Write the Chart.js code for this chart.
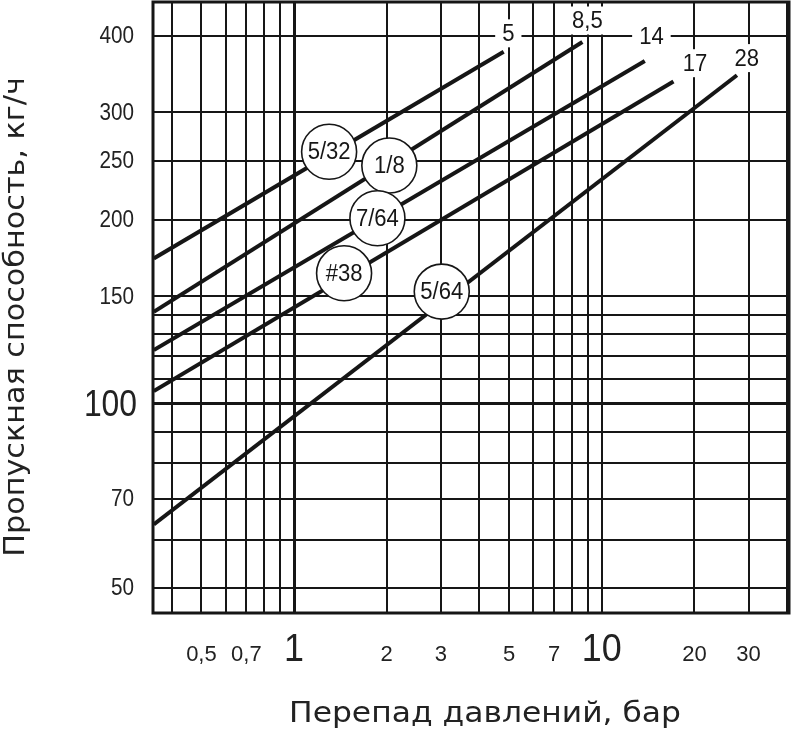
<!DOCTYPE html>
<html>
<head>
<meta charset="utf-8">
<script src="https://cdn.jsdelivr.net/npm/chart.js@4.4.0/dist/chart.umd.min.js"></script>
<style>
  html, body { margin: 0; padding: 0; background: #fff; }
  canvas { display: block; }
</style>
</head>
<body>
<canvas id="chart" width="791" height="730"></canvas>
<script>
// orifice curves: name, pressure tag at the end, and the two end points (bar, kg/h)
const orifices = ['5/32', '1/8', '7/64', '#38', '5/64'];
const maxPressure = ['5', '8,5', '14', '17', '28'];
const startBar = [0.35, 0.35, 0.35, 0.35, 0.35];
const startFlow = [173, 141.5, 122.5, 105, 63.5];
const endBar = [4.8, 8.65, 13.8, 17.1, 27.5];
const endFlow = [377, 391, 364, 337, 345];

// where the round tags and the pressure tags sit (bar, kg/h)
const circleBar = [1.30, 2.04, 1.866, 1.454, 3.02];
const circleFlow = [258.6, 245.5, 201.3, 163.6, 152.7];
const tagBar = [4.97, 8.98, 14.5, 20.1, 29.6];
const tagFlow = [404, 424, 399, 361, 368];

// grid and tick labels
const xGrid = [0.4, 0.5, 0.6, 0.7, 0.8, 0.9, 1, 2, 3, 4, 5, 6, 7, 8, 9, 10, 20, 30, 40];
const xTickValues = [0.5, 0.7, 1, 2, 3, 5, 7, 10, 20, 30];
const xTickText = ['0,5', '0,7', '1', '2', '3', '5', '7', '10', '20', '30'];
const yGrid = [50, 60, 70, 80, 90, 100, 110, 120, 130, 140, 150, 200, 250, 300, 400];
const yTickValues = [50, 70, 100, 150, 200, 250, 300, 400];
const yTickText = ['50', '70', '100', '150', '200', '250', '300', '400'];

const xTitle = 'Перепад давлений, бар';
const yTitle = 'Пропускная способность, кг/ч';

const SANS = "'Liberation Sans', Arial, sans-serif";
const TITLE_FONT = "'DejaVu Sans', sans-serif";
const INK = '#161616';

// draw text squeezed/stretched horizontally around its anchor
function drawText(ctx, text, x, y, sx, rot) {
  ctx.save();
  ctx.translate(x, y);
  if (rot) ctx.rotate(rot);
  ctx.scale(sx, 1);
  ctx.fillText(text, 0, 0);
  ctx.restore();
}

const decorations = {
  id: 'decorations',
  afterDatasetsDraw(chart) {
    const { ctx, chartArea: a, scales: { x, y } } = chart;
    ctx.save();
    // frame
    ctx.strokeStyle = INK;
    ctx.lineWidth = 3;
    ctx.strokeRect(a.left, a.top, a.right - a.left, a.bottom - a.top);

    ctx.textAlign = 'center';
    ctx.textBaseline = 'middle';
    ctx.font = '23px ' + SANS;

    // round tags on the curves
    orifices.forEach((name, i) => {
      const cx = x.getPixelForValue(circleBar[i]);
      const cy = y.getPixelForValue(circleFlow[i]);
      ctx.beginPath();
      ctx.arc(cx, cy, 27.5, 0, Math.PI * 2);
      ctx.fillStyle = '#fff';
      ctx.fill();
      ctx.lineWidth = 1.6;
      ctx.strokeStyle = INK;
      ctx.stroke();
      ctx.fillStyle = INK;
      drawText(ctx, name, cx, cy + 1, 0.96);
    });

    // pressure tags at the end of each curve
    ctx.font = '24px ' + SANS;
    maxPressure.forEach((t, i) => {
      const tx = x.getPixelForValue(tagBar[i]);
      const ty = y.getPixelForValue(tagFlow[i]);
      const w = ctx.measureText(t).width * 0.92 + 14;
      ctx.fillStyle = '#fff';
      ctx.fillRect(tx - w / 2, ty - 14, w, 28);
      ctx.fillStyle = INK;
      drawText(ctx, t, tx, ty + 1, 0.92);
    });

    // x tick labels, baseline aligned
    ctx.fillStyle = '#222';
    ctx.textBaseline = 'alphabetic';
    xTickValues.forEach((v, i) => {
      const big = v === 1 || v === 10;
      ctx.font = (big ? '39px ' : '22px ') + SANS;
      drawText(ctx, xTickText[i], x.getPixelForValue(v), 661, big ? 0.92 : 1);
    });

    // y tick labels, right aligned
    ctx.textAlign = 'right';
    ctx.textBaseline = 'middle';
    yTickValues.forEach((v, i) => {
      const big = v === 100;
      ctx.font = (big ? '37px ' : '23px ') + SANS;
      drawText(ctx, yTickText[i], big ? 137 : 134, y.getPixelForValue(v) + (big ? 2 : 1), big ? 0.86 : 0.9);
    });

    // axis titles
    ctx.textAlign = 'center';
    ctx.textBaseline = 'alphabetic';
    ctx.font = '28px ' + TITLE_FONT;
    drawText(ctx, xTitle, 485, 722, 1.12);
    drawText(ctx, yTitle, 24, 317, 1.08, -Math.PI / 2);
    ctx.restore();
  }
};

new Chart(document.getElementById('chart'), {
  type: 'scatter',
  data: {
    datasets: orifices.map((name, i) => ({
      label: name,
      data: [{ x: startBar[i], y: startFlow[i] }, { x: endBar[i], y: endFlow[i] }],
      showLine: true,
      borderColor: INK,
      borderWidth: 4,
      pointRadius: 0
    }))
  },
  options: {
    responsive: false,
    animation: false,
    layout: { padding: { top: 2, right: 2, left: 0, bottom: 0 } },
    plugins: { legend: { display: false }, tooltip: { enabled: false } },
    scales: {
      x: {
        type: 'logarithmic',
        min: 0.348,
        max: 40.6,
        bounds: 'data',
        afterBuildTicks: s => { s.ticks = xGrid.map(v => ({ value: v })); },
        afterFit: s => { s.height = 117; s.paddingLeft = 0; s.paddingRight = 0; },
        grid: { color: INK, lineWidth: c => (c.tick && c.tick.value === 1) ? 3 : 2, drawTicks: false },
        border: { display: false },
        ticks: { display: false }
      },
      y: {
        type: 'logarithmic',
        min: 45.5,
        max: 454.6,
        bounds: 'data',
        afterBuildTicks: s => { s.ticks = yGrid.map(v => ({ value: v })); },
        afterFit: s => { s.width = 153; s.paddingTop = 0; s.paddingBottom = 0; },
        grid: { color: INK, lineWidth: c => (c.tick && c.tick.value === 100) ? 3 : 2, drawTicks: false },
        border: { display: false },
        ticks: { display: false }
      }
    }
  },
  plugins: [decorations]
});
</script>
</body>
</html>
